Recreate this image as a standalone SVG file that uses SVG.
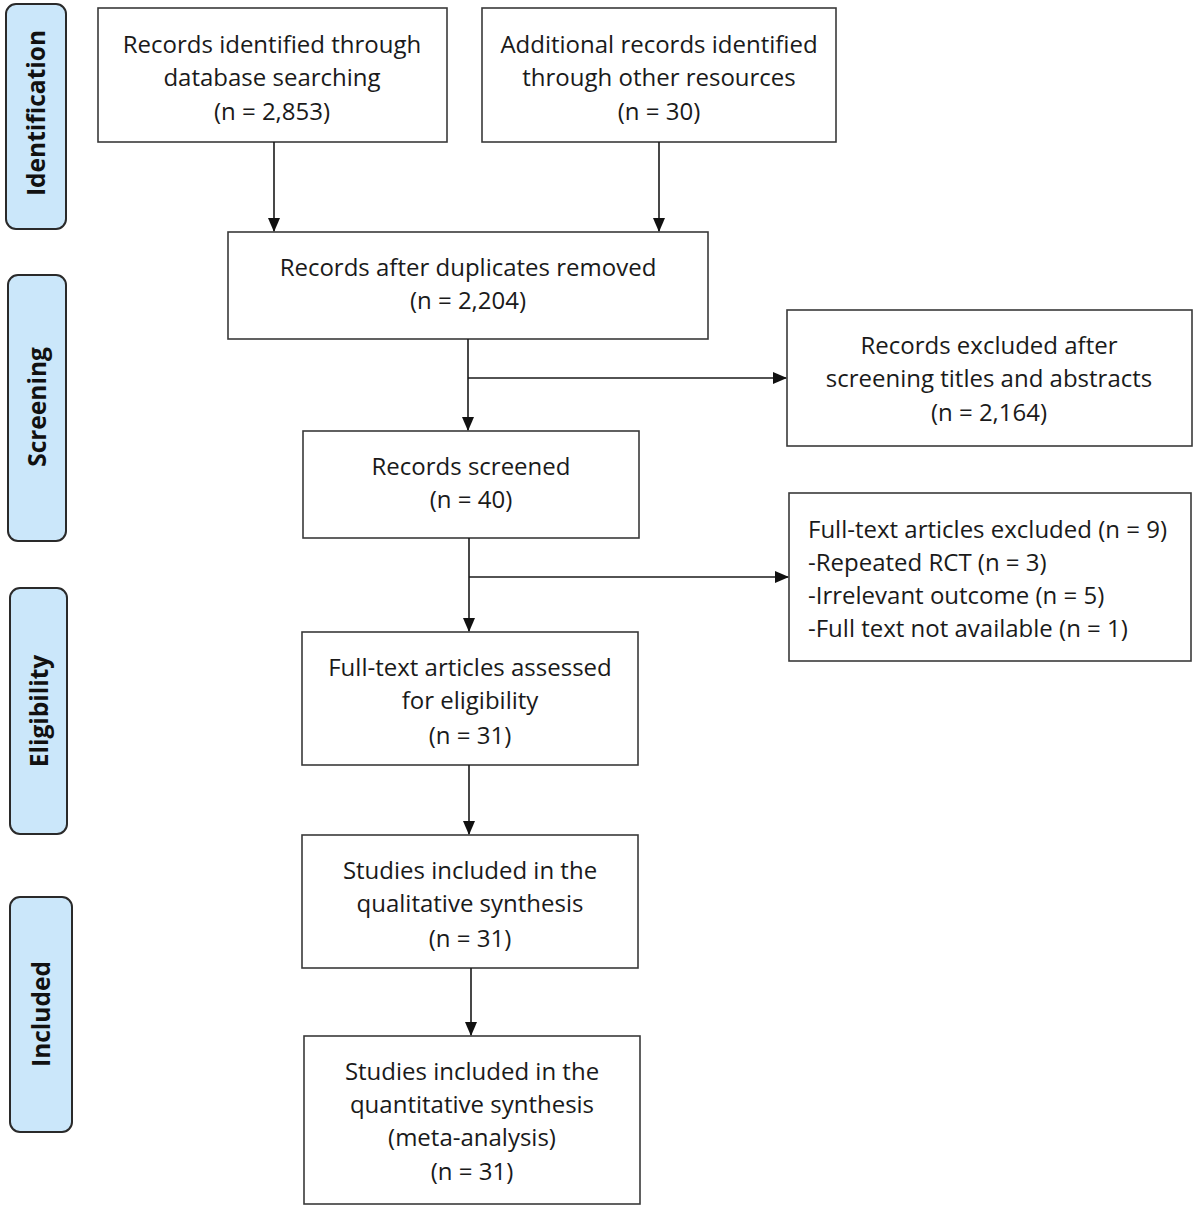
<svg xmlns="http://www.w3.org/2000/svg" width="1200" height="1206" viewBox="0 0 1200 1206">
<defs>
<style>
.box{fill:#fff;stroke:#3a3a3a;stroke-width:1.6}
.side{fill:#cbe7fa;stroke:#2a2a2a;stroke-width:2}
.t{font-family:"Open Sans","Liberation Sans",sans-serif;font-size:24px;fill:#1a1a1a;text-anchor:middle}
.tl{font-family:"Open Sans","Liberation Sans",sans-serif;font-size:24px;fill:#1a1a1a}
.s{font-family:"Open Sans","DejaVu Sans",sans-serif;font-size:24.5px;font-weight:bold;fill:#111;text-anchor:middle}
.c{stroke:#1a1a1a;stroke-width:1.6;fill:none}
</style>
<marker id="ah" markerWidth="14" markerHeight="12" refX="13" refY="6" orient="auto" markerUnits="userSpaceOnUse">
<path d="M0,0 L14,6 L0,12 Z" fill="#111"/>
</marker>
</defs>
<rect width="1200" height="1206" fill="#fff"/>

<g id="side-identification"><rect class="side" x="6" y="4" width="60" height="225" rx="10"/><text class="s" transform="translate(45,113) rotate(-90)">Identification</text></g>
<g id="side-screening"><rect class="side" x="8" y="275" width="58" height="266" rx="10"/><text class="s" transform="translate(46,407) rotate(-90)">Screening</text></g>
<g id="side-eligibility"><rect class="side" x="10" y="588" width="57" height="246" rx="10"/><text class="s" transform="translate(48,711) rotate(-90)">Eligibility</text></g>
<g id="side-included"><rect class="side" x="10" y="897" width="62" height="235" rx="10"/><text class="s" transform="translate(50,1014) rotate(-90)">Included</text></g>

<g id="n-db"><rect class="box" x="98" y="8" width="349" height="134"/>
<text class="t" x="272" y="53">Records identified through</text>
<text class="t" x="272" y="86">database searching</text>
<text class="t" x="272" y="120">(n = 2,853)</text></g>

<g id="n-other"><rect class="box" x="482" y="8" width="354" height="134"/>
<text class="t" x="659" y="53">Additional records identified</text>
<text class="t" x="659" y="86">through other resources</text>
<text class="t" x="659" y="120">(n = 30)</text></g>

<g id="n-dup"><rect class="box" x="228" y="232" width="480" height="107"/>
<text class="t" x="468" y="276">Records after duplicates removed</text>
<text class="t" x="468" y="309">(n = 2,204)</text></g>

<g id="n-excl1"><rect class="box" x="787" y="310" width="405" height="136"/>
<text class="t" x="989" y="354">Records excluded after</text>
<text class="t" x="989" y="387">screening titles and abstracts</text>
<text class="t" x="989" y="421">(n = 2,164)</text></g>

<g id="n-screened"><rect class="box" x="303" y="431" width="336" height="107"/>
<text class="t" x="471" y="475">Records screened</text>
<text class="t" x="471" y="508">(n = 40)</text></g>

<g id="n-excl2"><rect class="box" x="789" y="493" width="402" height="168"/>
<text class="tl" x="808" y="538">Full-text articles excluded (n = 9)</text>
<text class="tl" x="808" y="571">-Repeated RCT (n = 3)</text>
<text class="tl" x="808" y="604">-Irrelevant outcome (n = 5)</text>
<text class="tl" x="808" y="637">-Full text not available (n = 1)</text></g>

<g id="n-fulltext"><rect class="box" x="302" y="632" width="336" height="133"/>
<text class="t" x="470" y="676">Full-text articles assessed</text>
<text class="t" x="470" y="709">for eligibility</text>
<text class="t" x="470" y="744">(n = 31)</text></g>

<g id="n-qual"><rect class="box" x="302" y="835" width="336" height="133"/>
<text class="t" x="470" y="879">Studies included in the</text>
<text class="t" x="470" y="912">qualitative synthesis</text>
<text class="t" x="470" y="947">(n = 31)</text></g>

<g id="n-quant"><rect class="box" x="304" y="1036" width="336" height="168"/>
<text class="t" x="472" y="1080">Studies included in the</text>
<text class="t" x="472" y="1113">quantitative synthesis</text>
<text class="t" x="472" y="1146">(meta-analysis)</text>
<text class="t" x="472" y="1180">(n = 31)</text></g>

<g id="connectors">
<line class="c" x1="274" y1="142" x2="274" y2="231" marker-end="url(#ah)"/>
<line class="c" x1="659" y1="142" x2="659" y2="231" marker-end="url(#ah)"/>
<line class="c" x1="468" y1="339" x2="468" y2="430" marker-end="url(#ah)"/>
<line class="c" x1="468" y1="378" x2="786" y2="378" marker-end="url(#ah)"/>
<line class="c" x1="469" y1="538" x2="469" y2="631" marker-end="url(#ah)"/>
<line class="c" x1="469" y1="577" x2="788" y2="577" marker-end="url(#ah)"/>
<line class="c" x1="469" y1="765" x2="469" y2="834" marker-end="url(#ah)"/>
<line class="c" x1="471" y1="968" x2="471" y2="1035" marker-end="url(#ah)"/>
</g>
</svg>
